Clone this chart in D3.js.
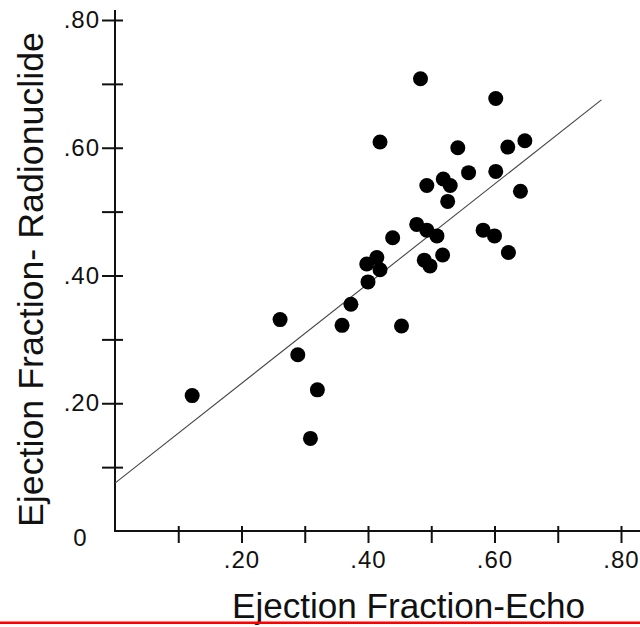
<!DOCTYPE html>
<html>
<head>
<meta charset="utf-8">
<script src="https://cdn.jsdelivr.net/npm/d3@7"></script>
<style>
  body { margin: 0; background: #fff; }
  svg { display: block; }
  text { font-family: "Liberation Sans", Arial, sans-serif; fill: #111; }
</style>
</head>
<body>
<script>
// ejection fraction by echo (x) and by radionuclide (y)
const echo = [0.483, 0.602, 0.419, 0.542, 0.621, 0.648, 0.559, 0.602, 0.493, 0.519,
  0.530, 0.526, 0.641, 0.477, 0.493, 0.509, 0.582, 0.600, 0.439, 0.489,
  0.498, 0.518, 0.622, 0.398, 0.414, 0.419, 0.400, 0.373, 0.261, 0.359,
  0.453, 0.289, 0.320, 0.309, 0.122];
const radionuclide = [0.708, 0.677, 0.609, 0.600, 0.601, 0.611, 0.561, 0.563, 0.541, 0.551,
  0.541, 0.516, 0.532, 0.480, 0.471, 0.462, 0.471, 0.462, 0.459, 0.424,
  0.415, 0.432, 0.436, 0.418, 0.428, 0.409, 0.390, 0.355, 0.331, 0.322,
  0.321, 0.276, 0.221, 0.145, 0.212];
const fitLine = [[0, 0.075], [0.769, 0.675]];
const tickVals = [0.1, 0.2, 0.3, 0.4, 0.5, 0.6, 0.7, 0.8];
const xLabels = { 0.2: ".20", 0.4: ".40", 0.6: ".60", 0.8: ".80" };
const yLabels = { 0.2: ".20", 0.4: ".40", 0.6: ".60", 0.8: ".80" };

const width = 640, height = 627;
const svg = d3.select("body").append("svg")
  .attr("width", width).attr("height", height);

const x = d3.scaleLinear().domain([0, 0.8]).range([115, 621]);
const y = d3.scaleLinear().domain([0, 0.8]).range([531, 20]);

// axis lines
svg.append("line").attr("x1", x(0)).attr("x2", 640)
  .attr("y1", y(0)).attr("y2", y(0))
  .attr("stroke", "#111").attr("stroke-width", 2);
svg.append("line").attr("x1", x(0)).attr("x2", x(0))
  .attr("y1", y(0) + 1).attr("y2", 10)
  .attr("stroke", "#111").attr("stroke-width", 2);

const xAxis = svg.append("g")
  .attr("transform", "translate(0," + y(0) + ")")
  .call(d3.axisBottom(x).tickValues(tickVals).tickSize(12).tickPadding(8)
    .tickFormat((d) => xLabels[d] || ""));
xAxis.select(".domain").remove();
xAxis.selectAll(".tick line").attr("y1", -5).attr("stroke", "#111").attr("stroke-width", 2);
xAxis.selectAll(".tick text")
  .attr("font-size", 24).attr("letter-spacing", 1).attr("fill", "#111");

const yAxis = svg.append("g")
  .attr("transform", "translate(" + x(0) + ",0)")
  .call(d3.axisLeft(y).tickValues(tickVals).tickSize(13).tickPadding(2)
    .tickFormat((d) => yLabels[d] || ""));
yAxis.select(".domain").remove();
yAxis.selectAll(".tick line").attr("x1", 8).attr("stroke", "#111").attr("stroke-width", 2);
yAxis.selectAll(".tick text")
  .attr("font-size", 24).attr("letter-spacing", 1).attr("fill", "#111");

// zero label on y axis
svg.append("text")
  .attr("x", 80).attr("y", y(0) + 15)
  .attr("text-anchor", "middle")
  .attr("font-size", 24)
  .text("0");

// regression line
svg.append("path")
  .datum(fitLine)
  .attr("fill", "none")
  .attr("stroke", "#444")
  .attr("stroke-width", 1.1)
  .attr("d", d3.line().x((d) => x(d[0])).y((d) => y(d[1])));

// points
svg.append("g")
  .selectAll("circle")
  .data(echo.map((e, i) => [e, radionuclide[i]]))
  .join("circle")
  .attr("cx", (d) => x(d[0]))
  .attr("cy", (d) => y(d[1]))
  .attr("r", 7.5)
  .attr("fill", "#000");

// axis titles
svg.append("text")
  .attr("x", 232).attr("y", 618)
  .attr("font-size", 35)
  .attr("textLength", 353).attr("lengthAdjust", "spacingAndGlyphs")
  .text("Ejection  Fraction-Echo");

svg.append("text")
  .attr("transform", "translate(43,527) rotate(-90)")
  .attr("font-size", 35)
  .attr("textLength", 495).attr("lengthAdjust", "spacingAndGlyphs")
  .text("Ejection  Fraction- Radionuclide");

// red rule at the bottom of the scan
svg.append("rect")
  .attr("x", 0).attr("y", 621.5).attr("width", width).attr("height", 2.5)
  .attr("fill", "#f00");
</script>
</body>
</html>
